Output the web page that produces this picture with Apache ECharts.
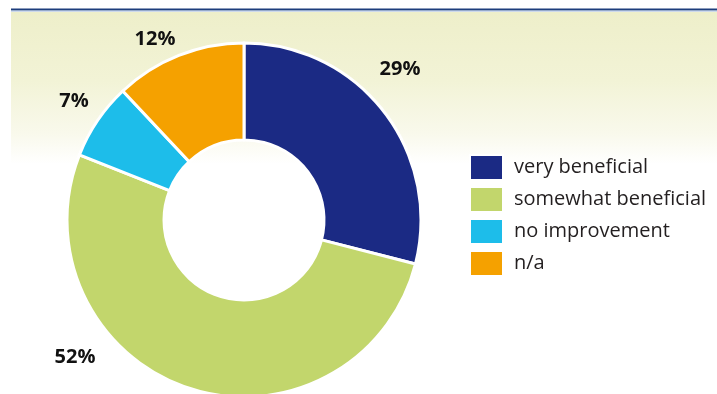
<!DOCTYPE html>
<html>
<head>
<meta charset="utf-8">
<script src="https://cdn.jsdelivr.net/npm/echarts@6/dist/echarts.min.js"></script>
<style>
  html, body { margin: 0; padding: 0; background: #ffffff; }
  #chart { width: 717px; height: 394px; }
</style>
</head>
<body>
<div id="chart"></div>
<script>
// Survey responses and their shares (%)
const categories = ['very beneficial', 'somewhat beneficial', 'no improvement', 'n/a'];
const shares = [29, 52, 7, 12];
const colors = ['#1b2a84', '#c2d66c', '#1dbdea', '#f5a100'];

// Where each percentage label sits, in chart pixels
const labelSpots = [[400, 69], [75, 357], [74, 101], [155, 39]];

const chart = echarts.init(document.getElementById('chart'), null, { renderer: 'canvas' });

chart.setOption({
  animation: false,
  backgroundColor: '#ffffff',
  graphic: [
    {
      type: 'rect',
      z: -10,
      shape: { x: 11, y: 12, width: 706, height: 152 },
      style: {
        fill: new echarts.graphic.LinearGradient(0, 0, 0, 1, [
          { offset: 0, color: '#eeefca' },
          { offset: 0.45, color: '#f2f3d6' },
          { offset: 0.8, color: '#f9f9ec' },
          { offset: 1, color: '#ffffff' }
        ])
      }
    },
    {
      type: 'rect',
      z: -5,
      shape: { x: 11, y: 8.5, width: 706, height: 2 },
      style: { fill: '#1d3d7c' }
    },
    {
      type: 'rect',
      z: -5,
      shape: { x: 11, y: 10.5, width: 706, height: 1 },
      style: { fill: '#9db6d8' }
    }
  ],
  legend: {
    orient: 'vertical',
    left: 469,
    top: 154,
    padding: 0,
    itemWidth: 33,
    itemHeight: 25,
    itemGap: 5,
    icon: 'rect',
    textStyle: {
      fontFamily: 'Open Sans',
      fontSize: 20,
      lineHeight: 25,
      color: '#231f20',
      padding: [0, 0, 0, 6]
    },
    data: categories
  },
  series: [
    {
      type: 'pie',
      center: [244, 220],
      radius: [80, 177],
      startAngle: 90,
      clockwise: true,
      avoidLabelOverlap: false,
      itemStyle: { borderColor: '#ffffff', borderWidth: 3 },
      label: {
        show: true,
        position: 'outside',
        formatter: '{c}%',
        fontFamily: 'Open Sans',
        fontWeight: 'bold',
        fontSize: 20,
        color: '#111111'
      },
      labelLine: { show: false },
      labelLayout: function (params) {
        const p = labelSpots[params.dataIndex];
        return { x: p[0], y: p[1], align: 'center', verticalAlign: 'middle' };
      },
      emphasis: { disabled: true },
      data: categories.map((name, i) => ({
        name: name,
        value: shares[i],
        itemStyle: { color: colors[i] }
      }))
    }
  ]
});
</script>
</body>
</html>
